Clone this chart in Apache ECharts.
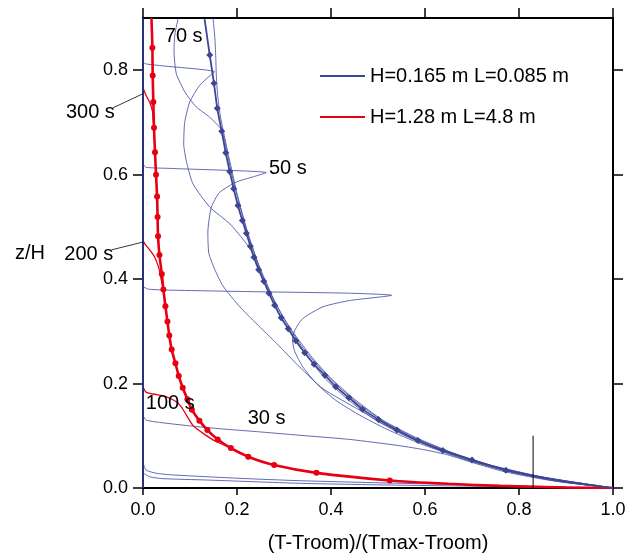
<!DOCTYPE html>
<html><head><meta charset="utf-8">
<script src="https://cdn.jsdelivr.net/npm/echarts@6/dist/echarts.min.js"></script>
<style>html,body{margin:0;padding:0;background:#fff}#c{width:625px;height:554px}</style>
</head><body><div id="c"></div>
<script>
// ---- tick values ----
const xTicks = [0, 0.2, 0.4, 0.6, 0.8, 1.0];
const yTicks = [0, 0.2, 0.4, 0.6, 0.8];
const xName = '(T-Troom)/(Tmax-Troom)';
const yName = 'z/H';
const nameBlue = 'H=0.165 m L=0.085 m';
const nameRed = 'H=1.28 m L=4.8 m';

// ---- small tank (blue) : profile with diamond markers ----
const blueSteadyTop = [[0.131, 0.898]];
const blueSteadyMarks = [[0.142,0.829],[0.151,0.775],[0.158,0.727],[0.1675,0.683],[0.176,0.642],[0.1845,0.606],[0.193,0.573],[0.202,0.541],[0.2115,0.512],[0.22,0.488],[0.2285,0.463],[0.236,0.442],[0.246,0.418],[0.257,0.396],[0.268,0.373],[0.280,0.350],[0.294,0.326],[0.309,0.305],[0.325,0.282],[0.344,0.259],[0.364,0.237],[0.387,0.216],[0.410,0.194],[0.438,0.173],[0.467,0.151],[0.501,0.131],[0.540,0.111],[0.585,0.091],[0.638,0.072],[0.700,0.0535],[0.772,0.034]];
const blueSteadyTail = [[0.9, 0.012], [1.0, 0]];

// ---- small tank (blue) : transient profiles ----
const blueWall = [[0, 0], [0, 0.9]];
const blue10 = [[0,0.029],[0.014,0.0216],[0.04,0.018],[0.135,0.0153],[0.333,0.009],[0.5,0.006],[0.75,0.003],[1,0]];
const blue20 = [[0,0.048],[0.007,0.034],[0.03,0.028],[0.064,0.025],[0.206,0.0185],[0.333,0.014],[0.5,0.010],[0.75,0.005],[1,0]];
const blue30 = [[0,0.138],[0.007,0.130],[0.0355,0.1256],[0.099,0.119],[0.170,0.113],[0.241,0.108],[0.333,0.101],[0.44,0.093],[0.546,0.081],[0.6,0.073],[0.65,0.063],[0.70,0.049],[0.77,0.031],[0.87,0.014],[1,0]];
const blue40 = [[0,0.386],[0.01,0.381],[0.05,0.379],[0.23,0.376],[0.44,0.373],[0.529,0.369],[0.44,0.359],[0.383,0.347],[0.34,0.3245],[0.323,0.302],[0.318,0.283],[0.323,0.261],[0.34,0.232],[0.369,0.2],[0.41,0.168],[0.46,0.14],[0.52,0.112],[0.59,0.085],[0.68,0.056],[0.78,0.031],[0.89,0.012],[1,0]];
const blue50 = [[0,0.62],[0.007,0.614],[0.057,0.612],[0.2625,0.604],[0.235,0.596],[0.199,0.586],[0.163,0.566],[0.1455,0.538],[0.138,0.49],[0.14,0.45],[0.152,0.42],[0.17,0.387],[0.206,0.347],[0.241,0.315],[0.284,0.277],[0.333,0.232],[0.383,0.19],[0.461,0.149],[0.503,0.127],[0.56,0.1],[0.63,0.073],[0.72,0.047],[0.83,0.024],[1,0]];
const blue60 = [[0,0.815],[0.007,0.812],[0.035,0.809],[0.1525,0.797],[0.143,0.79],[0.1206,0.771],[0.0994,0.739],[0.0887,0.700],[0.0866,0.659],[0.092,0.627],[0.106,0.583],[0.142,0.538],[0.1845,0.506],[0.22,0.468],[0.238,0.4425],[0.25,0.41],[0.265,0.38],[0.28,0.35],[0.298,0.32],[0.319,0.292],[0.345,0.258],[0.385,0.212],[0.435,0.17],[0.495,0.13],[0.57,0.095],[0.66,0.064],[0.76,0.036],[0.88,0.013],[1,0]];
const blue70 = [[0.075,0.9],[0.068,0.87],[0.066,0.837],[0.071,0.793],[0.09,0.757],[0.113,0.73],[0.142,0.71],[0.167,0.686],[0.177,0.652],[0.186,0.612],[0.196,0.575],[0.206,0.54],[0.217,0.505],[0.229,0.47],[0.243,0.435],[0.259,0.4],[0.278,0.362],[0.3,0.325],[0.326,0.29],[0.36,0.25],[0.4,0.21],[0.45,0.17],[0.51,0.13],[0.58,0.097],[0.66,0.067],[0.75,0.041],[0.86,0.019],[1,0]];
const blueLate = [[0.149,0.9],[0.153,0.86],[0.155,0.82],[0.156,0.79],[0.159,0.75],[0.165,0.71],[0.173,0.675],[0.181,0.64],[0.19,0.605],[0.198,0.571],[0.207,0.54],[0.216,0.51],[0.226,0.48],[0.239,0.445],[0.253,0.41],[0.27,0.375],[0.29,0.34],[0.313,0.305],[0.339,0.27],[0.371,0.235],[0.409,0.2],[0.456,0.163],[0.511,0.128],[0.578,0.096],[0.652,0.069],[0.735,0.045],[0.85,0.021],[1,0]];

// ---- large room (red) : profile with circle markers ----
const redSteadyTop = [[0.018, 0.9]];
const redSteadyMarks = [[0.020,0.843],[0.0206,0.790],[0.022,0.739],[0.0234,0.690],[0.0255,0.643],[0.0277,0.600],[0.030,0.558],[0.031,0.519],[0.032,0.482],[0.035,0.446],[0.040,0.410],[0.0434,0.380],[0.0477,0.348],[0.052,0.319],[0.056,0.292],[0.061,0.265],[0.069,0.239],[0.076,0.2145],[0.0845,0.192],[0.0945,0.170],[0.104,0.150],[0.120,0.129],[0.137,0.111],[0.159,0.093],[0.187,0.0765],[0.224,0.060],[0.279,0.044],[0.369,0.029],[0.525,0.0145]];
const redSteadyTail = [[0.65,0.008],[0.76,0.004],[0.9,0.001],[1,0]];

// ---- large room (red) : transient profiles ----
const red100 = [[0,0.9],[0,0.195],[0.006,0.184],[0.021,0.180],[0.05,0.1746],[0.071,0.165],[0.082,0.155],[0.092,0.14],[0.106,0.12],[0.128,0.1046],[0.156,0.0885],[0.187,0.077],[0.224,0.0605]];
const red200 = [[0,0.9],[0,0.475],[0.005,0.466],[0.0142,0.456],[0.025,0.442],[0.034,0.42],[0.039,0.398],[0.0434,0.38]];
const red300 = [[0,0.9],[0,0.768],[0.007,0.751],[0.014,0.739],[0.02,0.722],[0.022,0.70],[0.0234,0.69]];

// ---- vertical reference line ----
const refLine = [[0.83, 0], [0.83, 0.1]];

// ---- annotations (data coordinates) ----
const annotations = [
  {text: '70 s', x: 0.0866, y: 0.864, align: 'center'},
  {text: '300 s', x: -0.112, y: 0.72, align: 'center'},
  {text: '50 s', x: 0.268, y: 0.611, align: 'left'},
  {text: '200 s', x: -0.1155, y: 0.4474, align: 'center'},
  {text: '100 s', x: 0.058, y: 0.1616, align: 'center'},
  {text: '30 s', x: 0.263, y: 0.133, align: 'center'}
];
const leaders = [
  [[-0.0638, 0.728], [0, 0.755]],
  [[-0.067, 0.456], [0, 0.471]]
];

const FONT = 'Liberation Sans';
const BLUE = '#3d4692';
const BLUE_THIN = 'rgba(72,80,165,0.85)';
const RED = '#e60012';

const noSym = p => ({value: p, symbol: 'none'});

function thin(name, data, color, width) {
  return {name, type: 'line', data, showSymbol: false, symbol: 'none', smooth: 0.2,
    lineStyle: {color, width}, itemStyle: {color}, z: 2, silent: true, animation: false};
}

const axisLineStyle = {show: true, onZero: false, lineStyle: {color: '#000', width: 2}};

const option = {
  animation: false,
  grid: {left: 143, top: 18, width: 470, height: 470, containLabel: false, outerBoundsMode: 'none'},
  xAxis: [
    {type: 'value', position: 'bottom', min: 0, max: 1, interval: 0.2,
      axisLine: axisLineStyle,
      axisTick: {show: true, length: 7, lineStyle: {color: '#000', width: 1.5}, customValues: xTicks},
      axisLabel: {fontSize: 18, color: '#000', fontFamily: FONT, margin: 13, customValues: xTicks, formatter: v => v.toFixed(1)},
      splitLine: {show: false},
      name: xName, nameLocation: 'middle', nameGap: 45,
      nameTextStyle: {fontSize: 20, color: '#000', fontFamily: FONT}},
    {type: 'value', position: 'top', min: 0, max: 1, interval: 0.2,
      axisLine: axisLineStyle,
      axisTick: {show: true, length: 10, lineStyle: {color: '#000', width: 1.5}, customValues: xTicks},
      axisLabel: {show: false}, splitLine: {show: false}}
  ],
  yAxis: [
    {type: 'value', position: 'left', min: 0, max: 0.9, interval: 0.2,
      axisLine: axisLineStyle,
      axisTick: {show: true, length: 10, lineStyle: {color: '#000', width: 1.5}, customValues: yTicks},
      axisLabel: {fontSize: 18, color: '#000', fontFamily: FONT, margin: 15, customValues: yTicks, formatter: v => v.toFixed(1)},
      splitLine: {show: false},
      name: yName, nameLocation: 'middle', nameRotate: 0, nameGap: 98,
      nameTextStyle: {fontSize: 20, color: '#000', fontFamily: FONT}},
    {type: 'value', position: 'right', min: 0, max: 0.9, interval: 0.2,
      axisLine: axisLineStyle,
      axisTick: {show: true, length: 10, lineStyle: {color: '#000', width: 1.5}, customValues: yTicks},
      axisLabel: {show: false}, splitLine: {show: false}}
  ],
  legend: {
    left: 320, top: 66, padding: 0, orient: 'vertical', itemWidth: 45, itemHeight: 2, itemGap: 21,
    icon: 'rect', data: [nameBlue, nameRed], selectedMode: false,
    textStyle: {fontSize: 20, fontFamily: FONT, color: '#000', lineHeight: 20}
  },
  series: [
    thin('b10', blue10, BLUE_THIN, 1),
    thin('b20', blue20, BLUE_THIN, 1),
    thin('b30', blue30, BLUE_THIN, 1),
    thin('b40', blue40, BLUE_THIN, 1),
    thin('b50', blue50, BLUE_THIN, 1),
    thin('b60', blue60, BLUE_THIN, 1),
    thin('b70', blue70, BLUE_THIN, 1),
    thin('bLate', blueLate, BLUE_THIN, 1),
    thin('r100', red100, RED, 1.3),
    thin('r200', red200, RED, 1.3),
    thin('r300', red300, RED, 1.3),
    {name: nameRed, type: 'line', smooth: 0.2, symbol: 'circle', symbolSize: 6, showSymbol: true,
      data: redSteadyTop.map(noSym).concat(redSteadyMarks, redSteadyTail.map(noSym)),
      lineStyle: {color: RED, width: 2.6}, itemStyle: {color: RED}, z: 4, animation: false},
    {name: nameBlue, type: 'line', smooth: 0.2, symbol: 'diamond', symbolSize: 7, showSymbol: true,
      data: blueSteadyTop.map(noSym).concat(blueSteadyMarks, blueSteadyTail.map(noSym)),
      lineStyle: {color: BLUE, width: 1.8}, itemStyle: {color: BLUE}, z: 5, animation: false},
    {name: 'wall', type: 'line', data: blueWall, symbol: 'none', clip: false,
      lineStyle: {color: '#2a2f7c', width: 2}, z: 6, animation: false},
    {name: 'ref', type: 'line', data: refLine, symbol: 'none',
      lineStyle: {color: '#000', width: 1}, z: 6, animation: false}
  ]
};

const chart = echarts.init(document.getElementById('c'), null, {renderer: 'canvas'});
chart.setOption(option);
const toPx = p => chart.convertToPixel({xAxisIndex: 0, yAxisIndex: 0}, p);
const texts = annotations.map(a => {
  const p = toPx([a.x, a.y]);
  return {type: 'text', x: p[0], y: p[1], z: 100, silent: true,
    style: {text: a.text, fontSize: 20, fontFamily: FONT, fill: '#000', align: a.align, verticalAlign: 'middle'}};
});
const lines = leaders.map(seg => {
  const a = toPx(seg[0]), b = toPx(seg[1]);
  return {type: 'line', z: 100, silent: true,
    shape: {x1: a[0], y1: a[1], x2: b[0], y2: b[1]},
    style: {stroke: '#000', lineWidth: 0.8}};
});
chart.setOption({graphic: texts.concat(lines)});
</script>
</body></html>
